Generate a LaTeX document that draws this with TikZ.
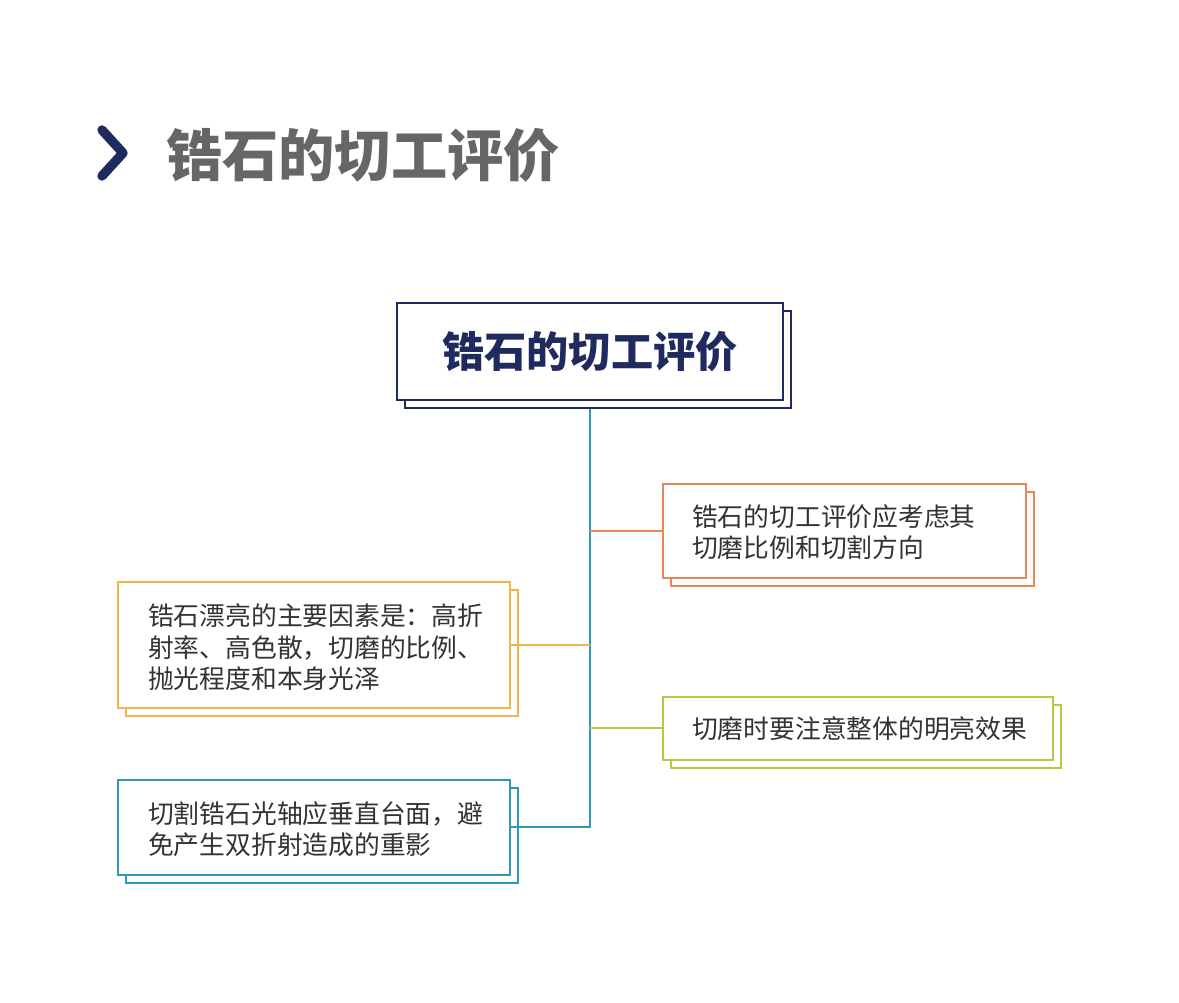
\documentclass[tikz,border=0pt]{standalone}
\usepackage{fontspec}
\setmainfont{Noto Sans CJK SC}
\usetikzlibrary{positioning}
\definecolor{navy}{HTML}{1F2A5E}
\definecolor{ora}{HTML}{E8875A}
\definecolor{yel}{HTML}{F0B64B}
\definecolor{grn}{HTML}{B5C842}
\definecolor{teal}{HTML}{2E9AB5}
\begin{document}
\begin{tikzpicture}[x=0.03cm,y=-0.03cm,
		txt/.style={font=\fontsize{22pt}{26.5pt}\selectfont,color=black!80,align=left,anchor=north west},
		branch/.style={line width=1.8pt,draw=#1}]
		\useasboundingbox (0,0) rectangle (1179,1002);
		
		%titel
		\draw[navy,line width=8pt,line cap=round,line join=round] (102,130) -- (123,153) -- (102,176);
		\node[anchor=west,font=\fontsize{48pt}{52pt}\selectfont\bfseries,color=black!60] (titel) at (162,155) {锆石的切工评价};
		
		%kasten
		\foreach \name/\x/\y/\w/\h/\farbe in {haupt/397/303/386/97/navy, k1/663/484/363/94/ora, k2/118/582/392/126/yel, k3/663/697/390/63/grn, k4/118/780/392/95/teal}{
			\draw[\farbe,line width=1.8pt,fill=white] (\x+8,\y+8) rectangle ++(\w,\h);
			\draw[\farbe,line width=1.8pt,fill=white] (\x,\y) rectangle ++(\w,\h);
			\coordinate (\name) at (\x,\y);
		}
		\node[font=\fontsize{36pt}{40pt}\selectfont\bfseries,color=navy] (hauptt) at (590,352) {锆石的切工评价};
		\node[txt] (t1) at (688,500) {锆石的切工评价应考虑其\\切磨比例和切割方向};
		\node[txt] (t2) at (144,600) {锆石漂亮的主要因素是：高折\\射率、高色散，切磨的比例、\\抛光程度和本身光泽};
		\node[txt] (t3) at (688,712) {切磨时要注意整体的明亮效果};
		\node[txt] (t4) at (144,797) {切割锆石光轴应垂直台面，避\\免产生双折射造成的重影};
		
		%linien
		\draw[branch=teal] (590,409) -- (590,827) -- (510,827);
		\draw[branch=ora] (590,531) -- (663,531);
		\draw[branch=yel] (590,645) -- (510,645);
		\draw[branch=grn] (590,728) -- (663,728);
\end{tikzpicture}
\end{document}
